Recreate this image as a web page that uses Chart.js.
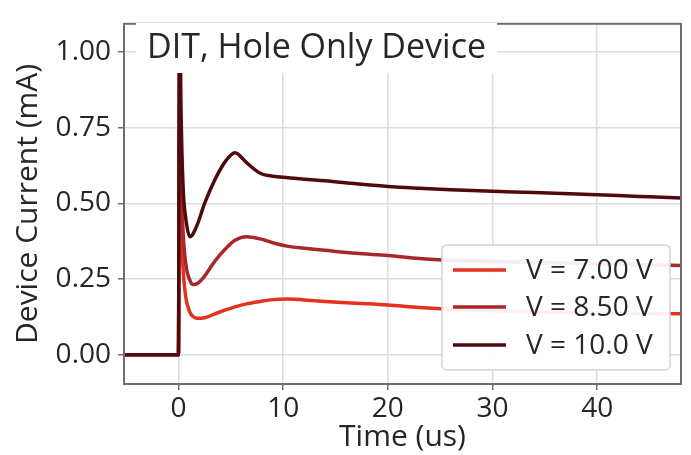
<!DOCTYPE html>
<html lang="en">
<head>
  <meta charset="UTF-8" />
  <title>DIT, Hole Only Device</title>
  <script src="https://cdn.jsdelivr.net/npm/chart.js"></script>
  <style>
    html, body { margin: 0; padding: 0; background: #fff; }
    #wrap { width: 691px; height: 455px; }
  </style>
</head>
<body>
<div id="wrap"><canvas id="chart" width="691" height="455"></canvas></div>
<script>
  // time axis (us), shared by the three traces
  const timeUs = [-5.2, 0, 0.1, 0.25, 0.45, 0.7, 1.1, 1.4, 1.8, 2.5, 3.5, 4.5, 5.4, 6.5, 7.8, 9,
                  10.5, 12, 14, 17, 20, 23, 26, 30, 34, 38, 42, 45, 48];

  // device current (mA)
  const current7V = [0, 0, 0.75, 0.45, 0.28, 0.19, 0.14, 0.126, 0.12, 0.122, 0.135, 0.148, 0.158, 0.168, 0.176, 0.182,
                     0.184, 0.181, 0.176, 0.17, 0.164, 0.156, 0.15, 0.146, 0.142, 0.139, 0.137, 0.136, 0.135];
  const current85V = [0, 0, 0.95, 0.6, 0.4, 0.3, 0.245, 0.232, 0.235, 0.26, 0.31, 0.35, 0.378, 0.39, 0.383, 0.37,
                      0.358, 0.352, 0.345, 0.335, 0.328, 0.318, 0.312, 0.308, 0.305, 0.302, 0.299, 0.297, 0.295];
  const current10V = [0, 0, 1.2, 0.8, 0.55, 0.45, 0.39, 0.40, 0.43, 0.50, 0.58, 0.64, 0.668, 0.635, 0.60, 0.59,
                      0.585, 0.58, 0.575, 0.565, 0.556, 0.55, 0.545, 0.54, 0.536, 0.531, 0.526, 0.522, 0.518];

  const seriesLabels = ['V = 7.00 V', 'V = 8.50 V', 'V = 10.0 V'];
  const seriesColors = ['#e3321f', '#a8282a', '#500a0c'];
  const xTicks = [0, 10, 20, 30, 40];
  const yTicks = [0, 0.25, 0.5, 0.75, 1.0];
  const titleText = 'DIT, Hole Only Device';

  const FONT = "'Open Sans', 'Noto Sans', sans-serif";
  const TEXT = '#262626';

  function pts(ys) {
    return timeUs.map((t, i) => ({ x: t, y: ys[i] }));
  }

  // frame, title box and legend on top of the curves
  const overlay = {
    id: 'overlay',
    afterDatasetsDraw(chart) {
      const { ctx, chartArea: a } = chart;
      ctx.save();
      ctx.strokeStyle = '#6e6e6e';
      ctx.lineWidth = 2;
      ctx.strokeRect(a.left, a.top, a.right - a.left, a.bottom - a.top);

      // title box
      ctx.fillStyle = '#ffffff';
      ctx.fillRect(136, 23, 361, 50);
      ctx.fillStyle = TEXT;
      ctx.font = '34px ' + FONT;
      ctx.textBaseline = 'alphabetic';
      ctx.textAlign = 'left';
      ctx.fillText(titleText, 147, 58);

      // legend
      const lx = 442, ly = 245, lw = 228, lh = 125;
      ctx.beginPath();
      ctx.roundRect(lx, ly, lw, lh, 5);
      ctx.fillStyle = 'rgba(255,255,255,0.92)';
      ctx.fill();
      ctx.strokeStyle = '#d4d4d4';
      ctx.lineWidth = 1.5;
      ctx.stroke();
      const rows = [270, 307, 345];
      ctx.font = '28px ' + FONT;
      ctx.textBaseline = 'middle';
      chart.data.datasets.forEach((ds, i) => {
        ctx.strokeStyle = ds.borderColor;
        ctx.lineWidth = 3.5;
        ctx.beginPath();
        ctx.moveTo(453, rows[i]);
        ctx.lineTo(506, rows[i]);
        ctx.stroke();
        ctx.fillStyle = TEXT;
        ctx.fillText(ds.label, 526, rows[i] + 1);
      });
      ctx.restore();
    }
  };

  new Chart(document.getElementById('chart'), {
    type: 'line',
    data: {
      datasets: [current7V, current85V, current10V].map((ys, i) => ({
        label: seriesLabels[i],
        data: pts(ys),
        borderColor: seriesColors[i],
        borderWidth: 3.5,
        pointRadius: 0,
        cubicInterpolationMode: 'monotone',
        clip: 0,
        order: 2 - i   // later voltages drawn on top
      }))
    },
    options: {
      responsive: false,
      animation: false,
      layout: { padding: { left: 0, top: 14, right: 10, bottom: 0 } },
      plugins: { legend: { display: false }, tooltip: { enabled: false } },
      scales: {
        x: {
          type: 'linear',
          min: -5.2,
          max: 48,
          afterBuildTicks: s => { s.ticks = xTicks.map(v => ({ value: v })); },
          afterFit: s => { s.height = 71; },
          grid: { color: '#dddddd', lineWidth: 1.5, tickLength: 6, tickColor: '#6e6e6e', tickWidth: 1.5 },
          border: { display: false },
          ticks: { font: { family: FONT, size: 28 }, color: TEXT, padding: 2, maxRotation: 0 },
          title: { display: true, text: 'Time (us)', font: { family: FONT, size: 30 }, color: TEXT, padding: { top: 0, bottom: 0 } }
        },
        y: {
          min: -0.097,
          max: 1.094,
          afterBuildTicks: s => { s.ticks = yTicks.map(v => ({ value: v })); },
          afterFit: s => { s.width = 124; },
          grid: { color: '#dddddd', lineWidth: 1.5, tickLength: 6, tickColor: '#6e6e6e', tickWidth: 1.5 },
          border: { display: false },
          ticks: { font: { family: FONT, size: 28 }, color: TEXT, padding: 7, callback: v => v.toFixed(2) },
          title: { display: true, text: 'Device Current (mA)', font: { family: FONT, size: 30 }, color: TEXT, padding: { top: 10, bottom: 0 } }
        }
      }
    },
    plugins: [overlay]
  });
</script>
</body>
</html>
